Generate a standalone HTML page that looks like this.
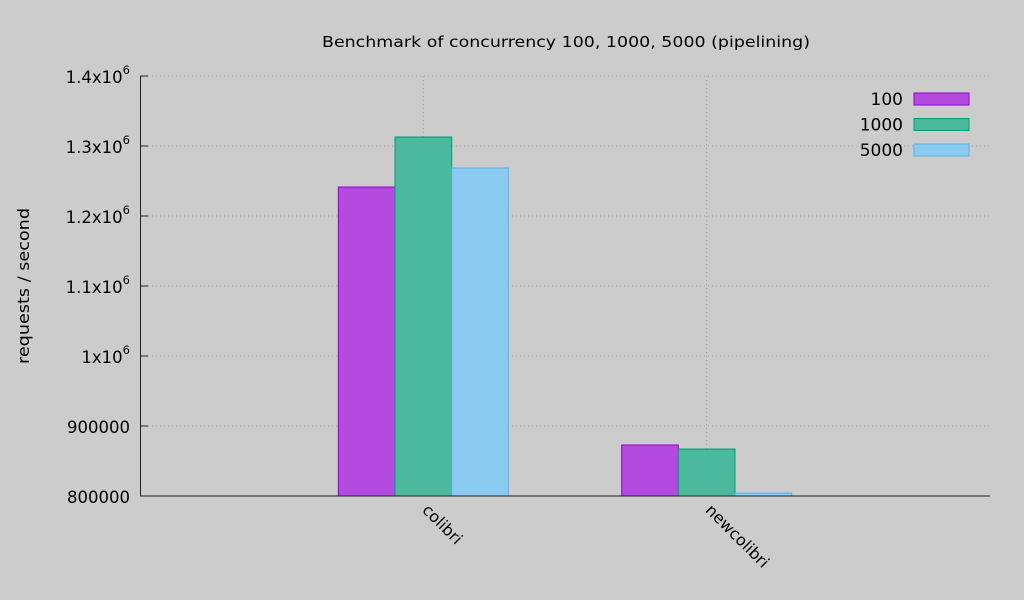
<!DOCTYPE html>
<html><head><meta charset="utf-8"><style>
html,body{margin:0;padding:0;background:#cccccc;}
svg{display:block;font-family:"DejaVu Sans","Liberation Sans",sans-serif;}
</style></head><body>
<svg id="chart" width="1024" height="600" viewBox="0 0 1024 600">
<rect x="0" y="0" width="1024" height="600" fill="#cccccc"/>
<text x="566" y="47" font-size="15.5" text-anchor="middle" fill="#000" textLength="488" lengthAdjust="spacingAndGlyphs">Benchmark of concurrency 100, 1000, 5000 (pipelining)</text>
<text transform="translate(29,286) rotate(-90)" font-size="16" text-anchor="middle" fill="#000" textLength="156" lengthAdjust="spacingAndGlyphs">requests / second</text>
<g id="grid"></g><g id="bars"></g><g id="axes"></g><g id="legend"></g>
</svg>
<script>
const categories = ["colibri", "newcolibri"];
const seriesNames = ["100", "1000", "5000"];
const series100 = [1241400, 872900];
const series1000 = [1312900, 867100];
const series5000 = [1268600, 804300];
const yTicks = [800000, 900000, 1000000, 1100000, 1200000, 1300000, 1400000];
const yTickLabels = ["800000", "900000", "1x10^6", "1.1x10^6", "1.2x10^6", "1.3x10^6", "1.4x10^6"];

const NS = "http://www.w3.org/2000/svg";
const L = 140, R = 990, T = 76, B = 496;
const yMin = 800000, yMax = 1400000, xMin = -1, xMax = 2;
const fills = ["#b44be1", "#4bb99c", "#8bcaf1"];
const strokes = ["#9400d3", "#009e73", "#56b4e9"];
const allSeries = [series100, series1000, series5000];
function y(v){ return B - (v - yMin) / (yMax - yMin) * (B - T); }
function x(v){ return L + (v - xMin) / (xMax - xMin) * (R - L); }
function mk(tag, attrs, parent){ const e = document.createElementNS(NS, tag); for (const k in attrs) e.setAttribute(k, attrs[k]); parent.appendChild(e); return e; }
const grid = document.getElementById('grid'), bars = document.getElementById('bars'), axes = document.getElementById('axes'), legend = document.getElementById('legend');

yTicks.forEach((t, i) => {
  const gl = mk('line', {x1: L, x2: R, y1: y(t), y2: y(t), stroke: '#a0a0a0', 'stroke-dasharray': '1,3', 'stroke-width': 1}, grid);
  
  
  const tk = mk('line', {x1: L, x2: L + 8, y1: y(t), y2: y(t), stroke: '#222'}, axes);
  
  
  const tx = mk('text', {x: L - 10, y: y(t) + 7, 'font-size': 16.5, 'text-anchor': 'end', fill: '#000'}, axes);
  
  
  const parts = yTickLabels[i].split('^');
  tx.textContent = parts[0];
  if (parts[1]) { const s = mk('tspan', {dy: -9, 'font-size': 11.5}, tx); s.textContent = parts[1]; }
});

categories.forEach((c, ci) => {
  const cx = x(ci);
  const gl = mk('line', {x1: cx, x2: cx, y1: T, y2: B, stroke: '#a0a0a0', 'stroke-dasharray': '1,3'}, grid);
  
  
  const bw = (x(0.2) - x(0));
  allSeries.forEach((s, si) => {
    const bx = cx + (si - 1.5) * bw;
    const top = y(s[ci]);
    const r = mk('rect', {x: bx, y: top, width: bw, height: B - top, fill: fills[si], stroke: strokes[si], 'stroke-width': 1}, bars);
    
    
  });
  const lx = mk('text', {x: 0, y: 0, 'font-size': 16, fill: '#000', transform: 'translate(' + (cx - 2) + ',' + (B + 15) + ') rotate(45)'}, axes);
  
  
  lx.textContent = c;
});

const ax = mk('line', {x1: L, x2: R, y1: B, y2: B, stroke: '#222', 'stroke-width': 1}, axes);


const ay = mk('line', {x1: L + 0.5, x2: L + 0.5, y1: T, y2: B, stroke: '#222', 'stroke-width': 1}, axes);



seriesNames.forEach((n, i) => {
  const ly = 99 + i * 25.5;
  const t = mk('text', {x: 903, y: ly + 6, 'font-size': 17, 'text-anchor': 'end', fill: '#000'}, legend);
  
  
  t.textContent = n;
  const r = mk('rect', {x: 914, y: ly - 6, width: 55, height: 12, fill: fills[i], stroke: strokes[i]}, legend);
  
  
});
</script>
</body></html>
